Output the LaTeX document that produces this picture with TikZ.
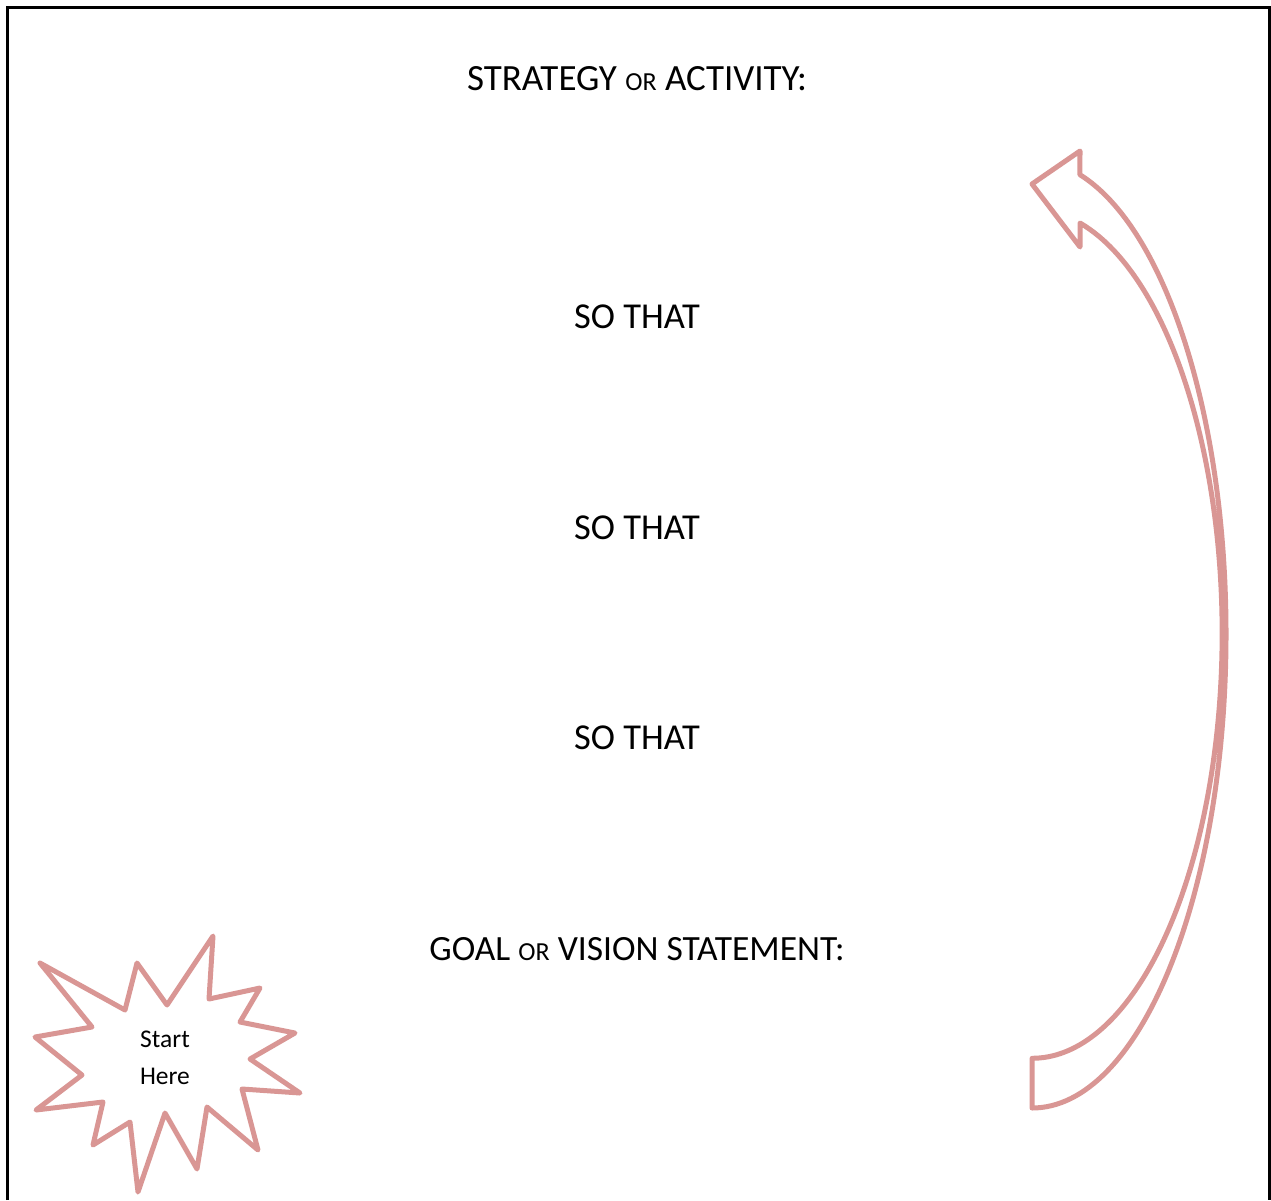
\documentclass[tikz,border=0pt]{standalone}
\usepackage{fontspec}
\setmainfont{Carlito}
\definecolor{rose}{RGB}{217,150,148}
\newcommand{\smallor}{{\fontsize{26}{30}\selectfont OR}}
\begin{document}
\begin{tikzpicture}[x=1pt, y=1pt, every node/.style={inner sep=0pt, font=\fontsize{36.5}{44}\selectfont}, pink/.style={draw=rose, line width=5pt, line join=round}, small/.style={font=\fontsize{25.5}{37}\selectfont, align=center}]
	\useasboundingbox (0,0) rectangle (1271,-1200);
	% page frame, open at the bottom
	\draw[line width=3pt] (7,-1200) -- (7,-7) -- (1269,-7) -- (1269,-1200);
	\node[font=\fontsize{37}{44}\selectfont] (title) at (637,-79) {STRATEGY \smallor{} ACTIVITY:};
	\node (so1) at (637,-317) {SO THAT};
	\node (so2) at (637,-528) {SO THAT};
	\node (so3) at (637,-738) {SO THAT};
	\node[font=\fontsize{35.5}{44}\selectfont] (goal) at (637,-949) {GOAL \smallor{} VISION STATEMENT:};
	% curved arrow back up
	\draw[pink] (1032,-1108) arc[start angle=-90, end angle=75.7, x radius=194, y radius=474]
		-- (1080,-151) -- (1032,-184) -- (1080,-247) -- (1080,-223)
		arc[start angle=75.4, end angle=-90, x radius=190, y radius=424.5] -- cycle;
	% star
	\draw[pink] (40,-963) -- (125,-1010) -- (137,-963) -- (167,-1005) -- (213,-936) -- (209,-999) -- (260,-988) -- (240,-1022) -- (295,-1033) -- (250,-1059) -- (300,-1093) -- (242,-1089) -- (258,-1150) -- (207,-1107) -- (197,-1169) -- (165,-1113) -- (138,-1192) -- (130,-1122) -- (93,-1145) -- (103,-1102) -- (36,-1110) -- (82,-1075) -- (35,-1037) -- (92,-1027) -- cycle;
	\node[small] (start) at (165,-1058) {Start\\Here};
\end{tikzpicture}
\end{document}
